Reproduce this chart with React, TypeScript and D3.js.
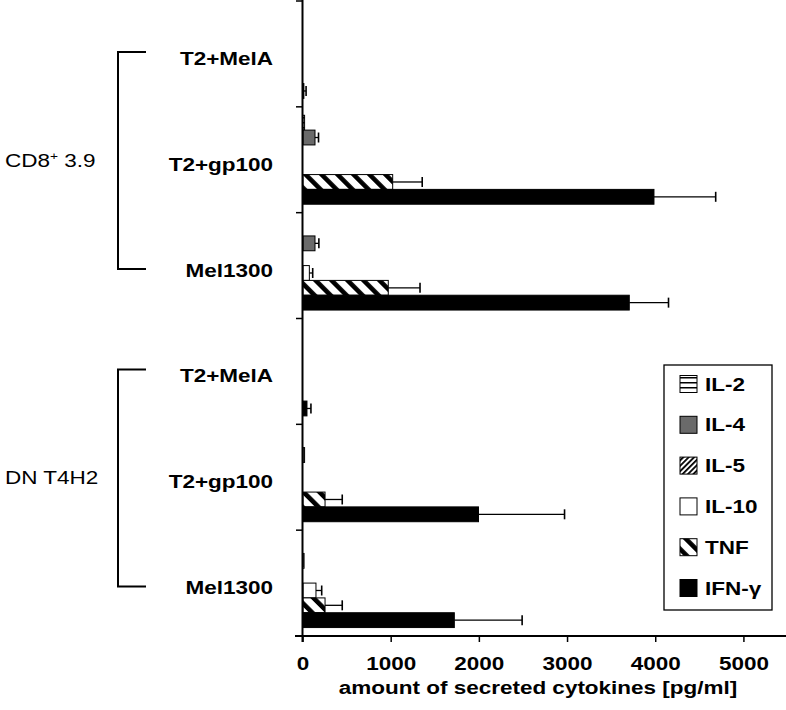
import React from "react";
import * as d3 from "d3";

// ---- data ----
const groups = ["CD8", "DN T4H2"];
const targets = ["T2+MelA", "T2+gp100", "Mel1300"];
const series = ["IL-2", "IL-4", "IL-5", "IL-10", "TNF", "IFN-γ"];
// values per row: CD8 (MelA, gp100, Mel1300), DN (MelA, gp100, Mel1300)
const il2 = [0, 18, 0, 0, 0, 0];
const il4 = [0, 136, 136, 0, 18, 12];
const il5 = [0, 0, 0, 0, 0, 0];
const il10 = [0, 0, 72, 0, 0, 147];
const tnf = [0, 1017, 967, 0, 250, 250];
const ifng = [10, 3980, 3700, 45, 1990, 1716];
const il2Sd = [0, 0, 0, 0, 0, 0];
const il4Sd = [0, 40, 44, 0, 0, 0];
const il5Sd = [0, 0, 0, 0, 0, 0];
const il10Sd = [0, 0, 38, 0, 0, 65];
const tnfSd = [0, 335, 360, 0, 195, 195];
const ifngSd = [25, 700, 445, 45, 976, 769];
const xTicks = [0, 1000, 2000, 3000, 4000, 5000];
const xTitle = "amount of secreted cytokines [pg/ml]";

const seriesValues = [il2, il4, il5, il10, tnf, ifng];
const seriesSd = [il2Sd, il4Sd, il5Sd, il10Sd, tnfSd, ifngSd];
const fills = ["url(#pIL2)", "#6a6a6a", "url(#pIL5)", "#ffffff", "url(#pTNF)", "#000000"];

const SX = 1.25;
const FONT = "'Liberation Sans', Arial, Helvetica, sans-serif";

function T({ x, y, anchor = "start", weight = "bold", size = 18, children }: any) {
  return (
    <g transform={`translate(${x},${y}) scale(${SX},1)`}>
      <text textAnchor={anchor} fontFamily={FONT} fontWeight={weight} fontSize={size} fill="#000">
        {children}
      </text>
    </g>
  );
}

export default function App() {
  const W = 786, H = 710;
  const rows: string[] = [];
  groups.forEach((g) => targets.forEach((t) => rows.push(`${g}|${t}`)));

  const yOuter = d3.scaleBand<string>().domain(rows).range([1, 636]);
  const yInner = d3.scaleBand<string>().domain(series).range([0, yOuter.bandwidth()]).paddingOuter(0.57).paddingInner(0);
  const x = d3.scaleLinear().domain([0, 5500]).range([303, 788]);
  const x0 = x(0);
  const axisY = 636;

  const bars: any[] = [];
  rows.forEach((r, ri) => {
    series.forEach((s, si) => {
      const v = seriesValues[si][ri];
      const sd = seriesSd[si][ri];
      const y0 = (yOuter(r) as number) + (yInner(s) as number);
      const h = yInner.bandwidth();
      if (v > 0) {
        bars.push(
          <rect key={`b${ri}-${si}`} x={x0} y={y0} width={x(v) - x0} height={h}
            fill={fills[si]} stroke="#000" strokeWidth={1} />
        );
      }
      if (sd > 0) {
        const cy = y0 + h / 2;
        bars.push(
          <g key={`e${ri}-${si}`} stroke="#000" strokeWidth={1.3}>
            <line x1={x(v)} x2={x(v + sd)} y1={cy} y2={cy} />
            <line x1={x(v + sd)} x2={x(v + sd)} y1={cy - 5} y2={cy + 5} strokeWidth={1.6} />
          </g>
        );
      }
    });
  });

  const bracketX = 118, armX = 146;
  const legendX = 664, legendY = 365, legendW = 108, legendH = 245;

  return (
    <svg width={W} height={H} style={{ position: "absolute", left: 0, top: 0, background: "#fff" }}>
      <defs>
        <pattern id="pIL2" patternUnits="userSpaceOnUse" width={6} height={5}>
          <rect width={6} height={5} fill="#fff" />
          <rect y={2} width={6} height={1.5} fill="#000" />
        </pattern>
        <pattern id="pIL5" patternUnits="userSpaceOnUse" width={3.8} height={10} patternTransform="rotate(45)">
          <rect width={3.8} height={10} fill="#fff" />
          <rect width={1.8} height={10} fill="#000" />
        </pattern>
        <pattern id="pTNF" patternUnits="userSpaceOnUse" width={11.3} height={20} patternTransform="rotate(-45)">
          <rect width={11.3} height={20} fill="#fff" />
          <rect width={4.6} height={20} fill="#000" />
        </pattern>
      </defs>
      <rect width={W} height={H} fill="#fff" />

      {/* bars */}
      {bars}

      {/* y axis */}
      <line x1={302.5} x2={302.5} y1={0} y2={axisY + 6} stroke="#000" strokeWidth={2} />
      {rows.map((r) => (
        <line key={`yt${r}`} x1={296} x2={302.5} y1={yOuter(r) as number} y2={yOuter(r) as number} stroke="#000" strokeWidth={1.5} />
      ))}
      {/* x axis */}
      <line x1={295} x2={W} y1={axisY} y2={axisY} stroke="#000" strokeWidth={2} />
      {xTicks.map((t) => (
        <g key={`xt${t}`}>
          <line x1={x(t)} x2={x(t)} y1={axisY} y2={axisY + 6} stroke="#000" strokeWidth={1.5} />
          <T x={x(t)} y={670} anchor="middle">{t}</T>
        </g>
      ))}
      <T x={538} y={694} anchor="middle">{xTitle}</T>

      {/* category labels */}
      {rows.map((r, i) => (
        <T key={`cl${r}`} x={273} y={(yOuter(r) as number) + yOuter.bandwidth() / 2 + 11} anchor="end">
          {targets[i % 3]}
        </T>
      ))}

      {/* group brackets */}
      {groups.map((g, gi) => {
        const first = rows[gi * 3], last = rows[gi * 3 + 2];
        const top = (yOuter(first) as number) + yOuter.bandwidth() / 2 - 2;
        const bot = (yOuter(last) as number) + yOuter.bandwidth() / 2 + 3.5;
        const mid = (top + bot) / 2;
        return (
          <g key={`g${g}`}>
            <path d={`M${armX},${top}H${bracketX}V${bot}H${armX}`} fill="none" stroke="#000" strokeWidth={2} />
            {gi === 0 ? (
              <g transform={`translate(5,${mid + 6}) scale(${SX},1)`}>
                <text fontFamily={FONT} fontSize={18} fill="#000">
                  CD8<tspan fontSize={11} dy={-7}>+</tspan><tspan dy={7}> 3.9</tspan>
                </text>
              </g>
            ) : (
              <T x={5} y={mid + 6} weight="normal">{g}</T>
            )}
          </g>
        );
      })}

      {/* legend */}
      <rect x={legendX} y={legendY} width={legendW} height={legendH} fill="#fff" stroke="#000" strokeWidth={1.3} />
      {series.map((s, i) => {
        const cy = 384 + i * 40.8;
        return (
          <g key={`lg${s}`}>
            <rect x={680} y={cy - 8.5} width={17} height={17} fill={fills[i]} stroke="#000" strokeWidth={1} />
            <T x={705} y={cy + 6.5}>{s}</T>
          </g>
        );
      })}
    </svg>
  );
}
